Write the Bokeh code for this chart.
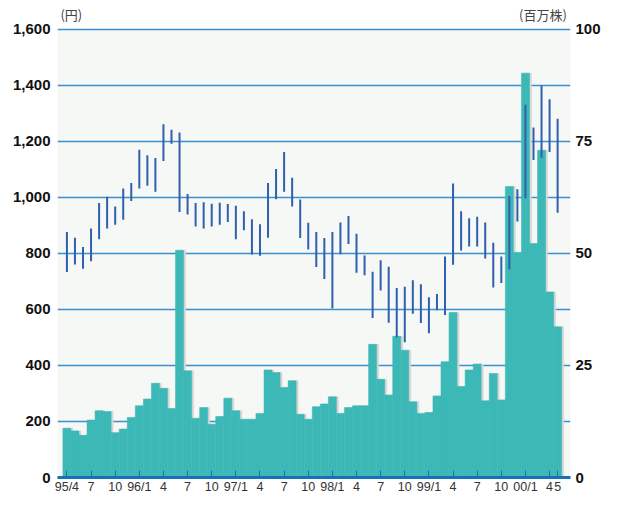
from bokeh.plotting import figure
from bokeh.models import (Range1d, LinearAxis, FixedTicker, NumeralTickFormatter,
                          Label, ColumnDataSource, BoxAnnotation)
from bokeh.embed import file_html
from bokeh.resources import INLINE

# ---------------- data ----------------
tick_pos = [0, 3, 6, 9, 12, 15, 18, 21, 24, 27, 30, 33, 36, 39, 42, 45, 48, 51, 54, 57, 60, 61]
tick_labels = ["95/4", "7", "10", "96/1", "4", "7", "10", "97/1", "4", "7", "10", "98/1",
               "4", "7", "10", "99/1", "4", "7", "10", "00/1", "4", "5"]

# monthly volume (百万株), 95/4 .. 00/5
volume = [11.0, 10.4, 9.4, 12.8, 14.9, 14.7, 10.0, 10.8, 13.4,
          16.0, 17.5, 21.0, 19.9, 15.4, 50.7, 23.8, 13.2, 15.6, 11.9, 13.6, 17.7,
          14.9, 13.0, 13.0, 14.3, 24.0, 23.4, 20.1, 21.6, 14.1, 13.0, 15.8, 16.4,
          18.0, 14.3, 15.6, 16.0, 16.0, 29.7, 21.9, 18.4, 31.5, 28.4, 16.9, 14.3,
          14.5, 18.2, 25.8, 36.8, 20.3, 24.0, 25.3, 17.1, 23.2, 17.3, 64.9, 50.2,
          90.2, 52.2, 73.0, 41.4, 33.6]

# monthly high / low price (円)
high = [876, 856, 823, 889, 980, 1002, 967, 1031, 1051,
        1170, 1150, 1140, 1261, 1241, 1231, 1012, 980, 982, 977, 981, 976,
        970, 950, 922, 904, 1051, 1101, 1162, 1070, 992, 909, 876, 855,
        876, 910, 933, 870, 792, 734, 775, 752, 676, 681, 704, 690,
        643, 655, 789, 1049, 950, 925, 931, 910, 838, 789, 1005, 1029,
        1330, 1249, 1399, 1350, 1280]
low = [733, 760, 745, 772, 850, 889, 902, 920, 987,
       1031, 1041, 1020, 1130, 1191, 948, 939, 896, 889, 896, 902, 912,
       850, 882, 796, 791, 856, 993, 1020, 967, 855, 814, 751, 708,
       603, 797, 833, 731, 722, 569, 667, 552, 500, 483, 584, 551,
       515, 597, 580, 759, 810, 824, 824, 782, 678, 694, 742, 914,
       997, 1133, 1141, 1162, 945]

price_ticks = [0, 200, 400, 600, 800, 1000, 1200, 1400, 1600]
vol_ticks = [0, 25, 50, 75, 100]
PRICE_MAX = 1600
VOL_MAX = 100

idx = list(range(len(volume)))
shadow_x = [i + 0.25 for i in idx]

FONT = "Liberation Sans"
GRID = "#3a8fd0"
AXIS_BLUE = "#1a6fb8"

# headroom above the 1600 line for the unit captions
HEAD = 1.064
p = figure(width=603, height=496, output_backend="svg", toolbar_location=None,
           x_range=Range1d(-1.17, 62.6), y_range=Range1d(0, PRICE_MAX * HEAD),
           min_border_left=57, min_border_right=4, min_border_top=0, min_border_bottom=4)
p.extra_y_ranges = {"vol": Range1d(0, VOL_MAX * HEAD)}

p.background_fill_color = "white"
p.border_fill_color = "white"
p.outline_line_color = None

p.add_layout(BoxAnnotation(top=PRICE_MAX, fill_color="#f6f8f6", fill_alpha=1.0,
                           line_color=None, level="image"))

src = ColumnDataSource(dict(x=idx, sx=shadow_x, vol=volume, hi=high, lo=low))

# volume bars with a grey shadow
p.vbar(x="sx", top="vol", width=1.0, source=src, y_range_name="vol",
       fill_color="#d6d6d6", line_color="#d6d6d6", line_width=0.5)
p.vbar(x="x", top="vol", width=1.0, source=src, y_range_name="vol",
       fill_color="#3cb8b7", line_color="#3cb8b7", line_width=0.5)

# price high-low lines
p.segment(x0="x", y0="lo", x1="x", y1="hi", source=src,
          line_color="#2f5fae", line_width=2)

# grid
p.xgrid.grid_line_color = None
p.ygrid.ticker = FixedTicker(ticks=price_ticks)
p.ygrid.grid_line_color = GRID
p.ygrid.grid_line_width = 1.6

# x axis
xa = p.xaxis[0]
xa.ticker = FixedTicker(ticks=tick_pos)
xa.major_label_overrides = {t: l for t, l in zip(tick_pos, tick_labels)}
xa.axis_line_color = AXIS_BLUE
xa.axis_line_width = 3
xa.major_tick_in = 7
xa.major_tick_out = 0
xa.major_tick_line_color = AXIS_BLUE
xa.major_tick_line_width = 1
xa.minor_tick_line_color = None
xa.major_label_text_font = FONT
xa.major_label_text_font_size = "12.5px"
xa.major_label_text_color = "#333333"
xa.major_label_standoff = 2

# left axis
ya = p.yaxis[0]
ya.ticker = FixedTicker(ticks=price_ticks)
ya.formatter = NumeralTickFormatter(format="0,0")
ya.axis_line_color = None
ya.major_tick_line_color = None
ya.major_tick_out = 0
ya.major_tick_in = 0
ya.minor_tick_line_color = None
ya.major_label_text_font = FONT
ya.major_label_text_font_size = "15px"
ya.major_label_text_font_style = "bold"
ya.major_label_text_color = "#111111"
ya.major_label_standoff = 7

# right axis
ra = LinearAxis(y_range_name="vol", ticker=FixedTicker(ticks=vol_ticks))
ra.axis_line_color = None
ra.major_tick_line_color = None
ra.major_tick_out = 0
ra.major_tick_in = 0
ra.minor_tick_line_color = None
ra.major_label_text_font = FONT
ra.major_label_text_font_size = "15px"
ra.major_label_text_font_style = "bold"
ra.major_label_text_color = "#111111"
ra.major_label_standoff = 5
p.add_layout(ra, "right")

# unit captions
p.add_layout(Label(x=-0.8, y=PRICE_MAX * 1.012, text="(円)", text_font="Noto Sans CJK JP",
                   text_font_size="13px", text_color="#444444", text_baseline="bottom",
                   text_align="left"))
p.add_layout(Label(x=62.15, y=PRICE_MAX * 1.012, text="(百万株)", text_font="Noto Sans CJK JP",
                   text_font_size="13px", text_color="#444444", text_baseline="bottom",
                   text_align="right"))

open("out.html", "w").write(file_html(p, INLINE))
